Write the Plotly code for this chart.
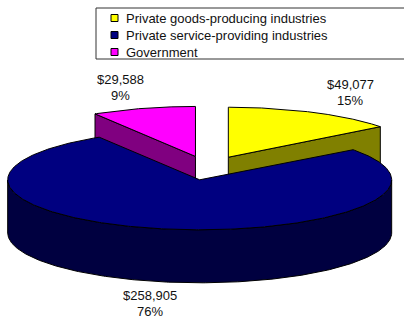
import numpy as np
import plotly.graph_objects as go

# ---- data ----
categories = ["Private goods-producing industries",
              "Private service-providing industries",
              "Government"]
values = [49077, 258905, 29588]
pct_labels = ["15%", "76%", "9%"]

# ---- style ----
top_colors = ["#FFFF00", "#000080", "#FF00FF"]
side_colors = ["#808000", "#000040", "#800080"]
CX, CY = 208.0, 168.0      # pie centre (pixels)
RX, RY = 192.0, 50.0       # ellipse radii
DEPTH = 53.0               # thickness
EXPLODE = 0.24             # explosion (fraction of radius)
LABEL_R = 1.44
LINE_GAP = 16
FONT = "Liberation Sans, Arial, sans-serif"
W, H = 404, 318

total = float(sum(values))
fr = np.array(values) / total
cum = np.concatenate([[0], np.cumsum(fr)])
t_start = 90 - 360 * cum[:-1]
t_end = 90 - 360 * cum[1:]


def pt(cx, cy, tdeg, dz=0.0):
    t = np.radians(tdeg)
    return cx + RX * np.cos(t), cy - RY * np.sin(t) + dz


fig = go.Figure()
slices = []
for i in range(len(values)):
    mid = (t_start[i] + t_end[i]) / 2
    ax = CX + RX * EXPLODE * np.cos(np.radians(mid))
    ay = CY - RY * EXPLODE * np.sin(np.radians(mid))
    slices.append((ay, i, mid, ax))

line = dict(color="black", width=1)


def poly(xs, ys, color):
    fig.add_trace(go.Scatter(x=list(xs) + [xs[0]], y=list(ys) + [ys[0]],
                             mode="lines", fill="toself", fillcolor=color,
                             line=line, hoverinfo="skip", showlegend=False))


def text(x, y, s, anchor="center"):
    fig.add_annotation(x=x, y=y, xref="x", yref="y", showarrow=False, text=s,
                       font=dict(family=FONT, size=13, color="#111111"),
                       xanchor=anchor, yanchor="middle", borderpad=0)


for ay, i, mid, ax in sorted(slices):
    ts, te = t_start[i], t_end[i]
    # radial faces
    for t, n in ((ts, ts + 90), (te, te - 90)):
        if np.sin(np.radians(n)) < -1e-6:
            x1, y1 = pt(ax, ay, t)
            xs = [ax, x1, x1, ax]
            ys = [ay, y1, y1 + DEPTH, ay + DEPTH]
            poly(xs, ys, side_colors[i])
    # outer wall (front half)
    arc = np.linspace(ts, te, 400)
    front = arc[np.sin(np.radians(arc)) <= 1e-9]
    if len(front) > 1:
        xt, yt = pt(ax, ay, front)
        xb, yb = pt(ax, ay, front[::-1], DEPTH)
        poly(np.concatenate([xt, xb]), np.concatenate([yt, yb]), side_colors[i])
    # top face
    xa, ya = pt(ax, ay, arc)
    poly(np.concatenate([[ax], xa]), np.concatenate([[ay], ya]), top_colors[i])

    # label (value and percentage)
    lx = ax + RX * LABEL_R * np.cos(np.radians(mid))
    ly = ay - RY * LABEL_R * np.sin(np.radians(mid))
    if np.sin(np.radians(mid)) < 0:
        ly += DEPTH
    text(lx, ly - LINE_GAP / 2, "${:,}".format(values[i]))
    text(lx, ly + LINE_GAP / 2, pct_labels[i])

# ---- legend (box with keys and text) ----
LEG_X0, LEG_Y0, LEG_Y1 = 96, 8, 59
LEG_KEY_X, LEG_TEXT_X = 114.5, 125
leg_rows = [18, 35, 52]
fig.add_shape(type="rect", xref="x", yref="y", x0=LEG_X0, x1=W + 10,
              y0=LEG_Y0, y1=LEG_Y1, line=dict(color="#333333", width=1),
              fillcolor="white", layer="below")
fig.add_trace(go.Scatter(x=[LEG_KEY_X] * len(categories), y=leg_rows,
                         mode="markers",
                         marker=dict(symbol="square", size=7, color=top_colors,
                                     line=dict(color="black", width=1)),
                         hoverinfo="skip", showlegend=False))
for name, yy in zip(categories, leg_rows):
    text(LEG_TEXT_X, yy, name, anchor="left")

fig.update_layout(width=W, height=H, margin=dict(l=0, r=0, t=0, b=0),
                  paper_bgcolor="white", plot_bgcolor="white",
                  showlegend=False,
                  xaxis=dict(range=[0, W], visible=False, fixedrange=True),
                  yaxis=dict(range=[H, 0], visible=False, fixedrange=True))
fig.write_html("out.html", config={"displayModeBar": False},
               post_script="document.body.style.margin='0';"
                           "document.body.style.overflow='hidden';")
